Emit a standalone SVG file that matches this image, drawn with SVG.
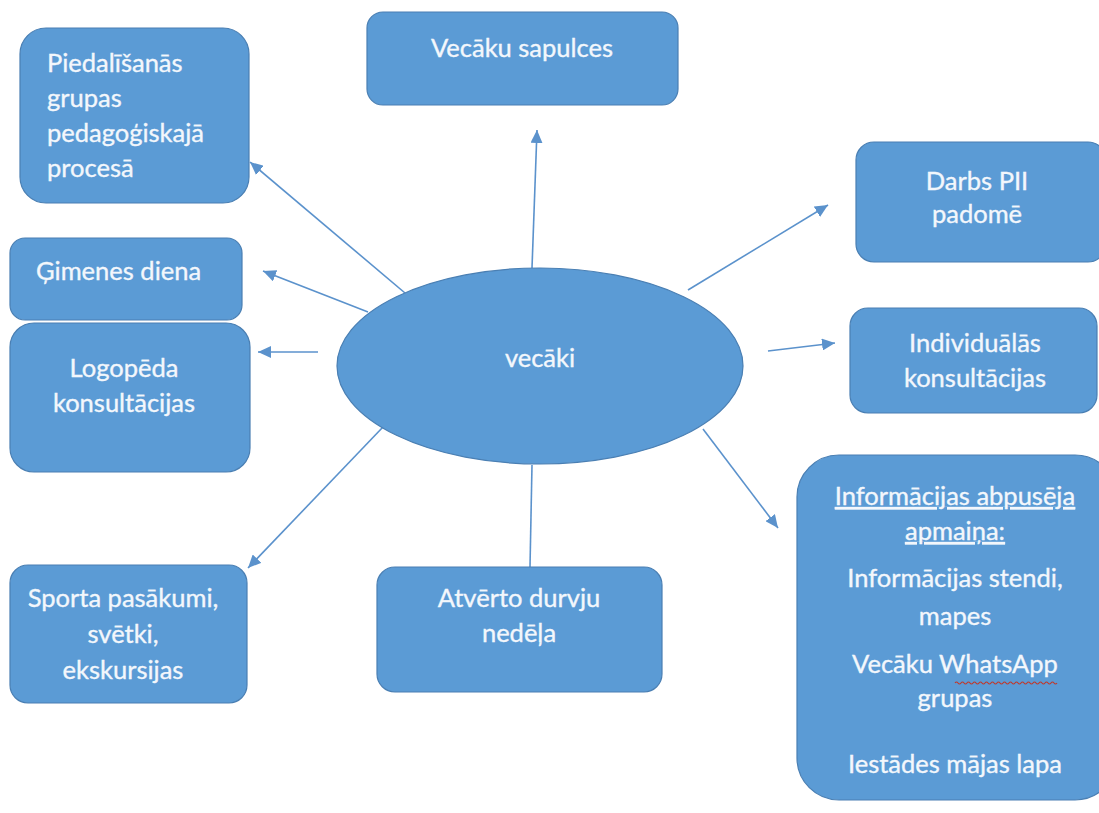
<svg xmlns="http://www.w3.org/2000/svg" width="1099" height="813" viewBox="0 0 1099 813">
<style>
.box{fill:#5b9bd5;stroke:#4a7fb3;stroke-width:1.2}
.t{font-family:Lato,"Open Sans","Liberation Sans",sans-serif;font-size:25.5px;fill:#f3f7fc;stroke:#f3f7fc;stroke-width:0.35}
.c{text-anchor:middle}
.conn{stroke:#5b92cc;stroke-width:1.6;fill:none}
</style>
<defs>
<marker id="ah" markerUnits="userSpaceOnUse" markerWidth="14" markerHeight="12" refX="13" refY="6" orient="auto">
<path d="M0,0 L13,6 L0,12 Z" fill="#5b92cc"/>
</marker>
</defs>
<rect width="1099" height="813" fill="#ffffff"/>
<g id="connectors">
<line class="conn" x1="405" y1="293" x2="250" y2="162" marker-end="url(#ah)"/>
<line class="conn" x1="368" y1="312" x2="263" y2="271" marker-end="url(#ah)"/>
<line class="conn" x1="318" y1="352" x2="258" y2="352" marker-end="url(#ah)"/>
<line class="conn" x1="383" y1="427" x2="248" y2="568" marker-end="url(#ah)"/>
<line class="conn" x1="532" y1="465" x2="530" y2="567"/>
<line class="conn" x1="532" y1="268" x2="537" y2="130" marker-end="url(#ah)"/>
<line class="conn" x1="688" y1="290" x2="828" y2="205" marker-end="url(#ah)"/>
<line class="conn" x1="768" y1="351" x2="835" y2="343" marker-end="url(#ah)"/>
<line class="conn" x1="703" y1="429" x2="778" y2="528" marker-end="url(#ah)"/>
</g>
<g id="center">
<ellipse class="box" cx="540" cy="366" rx="203" ry="98"/>
<text class="t c" x="540" y="367">vecāki</text>
</g>
<g id="n-piedalisanas">
<rect class="box" x="20" y="28" width="229" height="175" rx="26"/>
<text class="t" x="47" y="72">Piedalīšanās</text>
<text class="t" x="47" y="107">grupas</text>
<text class="t" x="47" y="142">pedagoģiskajā</text>
<text class="t" x="47" y="177">procesā</text>
</g>
<g id="n-sapulces">
<rect class="box" x="367" y="12" width="311" height="93" rx="16"/>
<text class="t c" x="522" y="57">Vecāku sapulces</text>
</g>
<g id="n-darbs">
<rect class="box" x="856" y="142" width="250" height="120" rx="18"/>
<text class="t c" x="977" y="190">Darbs PII</text>
<text class="t c" x="977" y="223">padomē</text>
</g>
<g id="n-gimenes">
<rect class="box" x="10" y="238" width="232" height="82" rx="15"/>
<text class="t" x="36" y="280">Ģimenes diena</text>
</g>
<g id="n-logopeda">
<rect class="box" x="10" y="323" width="240" height="149" rx="24"/>
<text class="t c" x="124" y="377">Logopēda</text>
<text class="t c" x="124" y="412">konsultācijas</text>
</g>
<g id="n-individualas">
<rect class="box" x="850" y="308" width="247" height="105" rx="18"/>
<text class="t c" x="975" y="352">Individuālās</text>
<text class="t c" x="975" y="387">konsultācijas</text>
</g>
<g id="n-sporta">
<rect class="box" x="10" y="565" width="237" height="138" rx="18"/>
<text class="t c" x="123" y="607">Sporta pasākumi,</text>
<text class="t c" x="123" y="643">svētki,</text>
<text class="t c" x="123" y="679">ekskursijas</text>
</g>
<g id="n-atverto">
<rect class="box" x="377" y="567" width="285" height="125" rx="18"/>
<text class="t c" x="519" y="607">Atvērto durvju</text>
<text class="t c" x="519" y="642">nedēļa</text>
</g>
<g id="n-informacija">
<rect class="box" x="797" y="455" width="320" height="345" rx="42"/>
<text class="t c" x="955" y="505" text-decoration="underline">Informācijas abpusēja</text>
<text class="t c" x="955" y="540" text-decoration="underline">apmaiņa:</text>
<text class="t c" x="955" y="587">Informācijas stendi,</text>
<text class="t c" x="955" y="625">mapes</text>
<text class="t c" x="955" y="673">Vecāku WhatsApp</text>
<path d="M955,683 q1.5,-2 3,0 t3,0 t3,0 t3,0 t3,0 t3,0 t3,0 t3,0 t3,0 t3,0 t3,0 t3,0 t3,0 t3,0 t3,0 t3,0 t3,0 t3,0 t3,0 t3,0 t3,0 t3,0 t3,0 t3,0 t3,0 t3,0 t3,0 t3,0 t3,0 t3,0 t3,0 t3,0 t3,0 t3,0" fill="none" stroke="#c0392b" stroke-width="1.2"/>
<text class="t c" x="955" y="707">grupas</text>
<text class="t c" x="955" y="773">Iestādes mājas lapa</text>
</g>
</svg>
